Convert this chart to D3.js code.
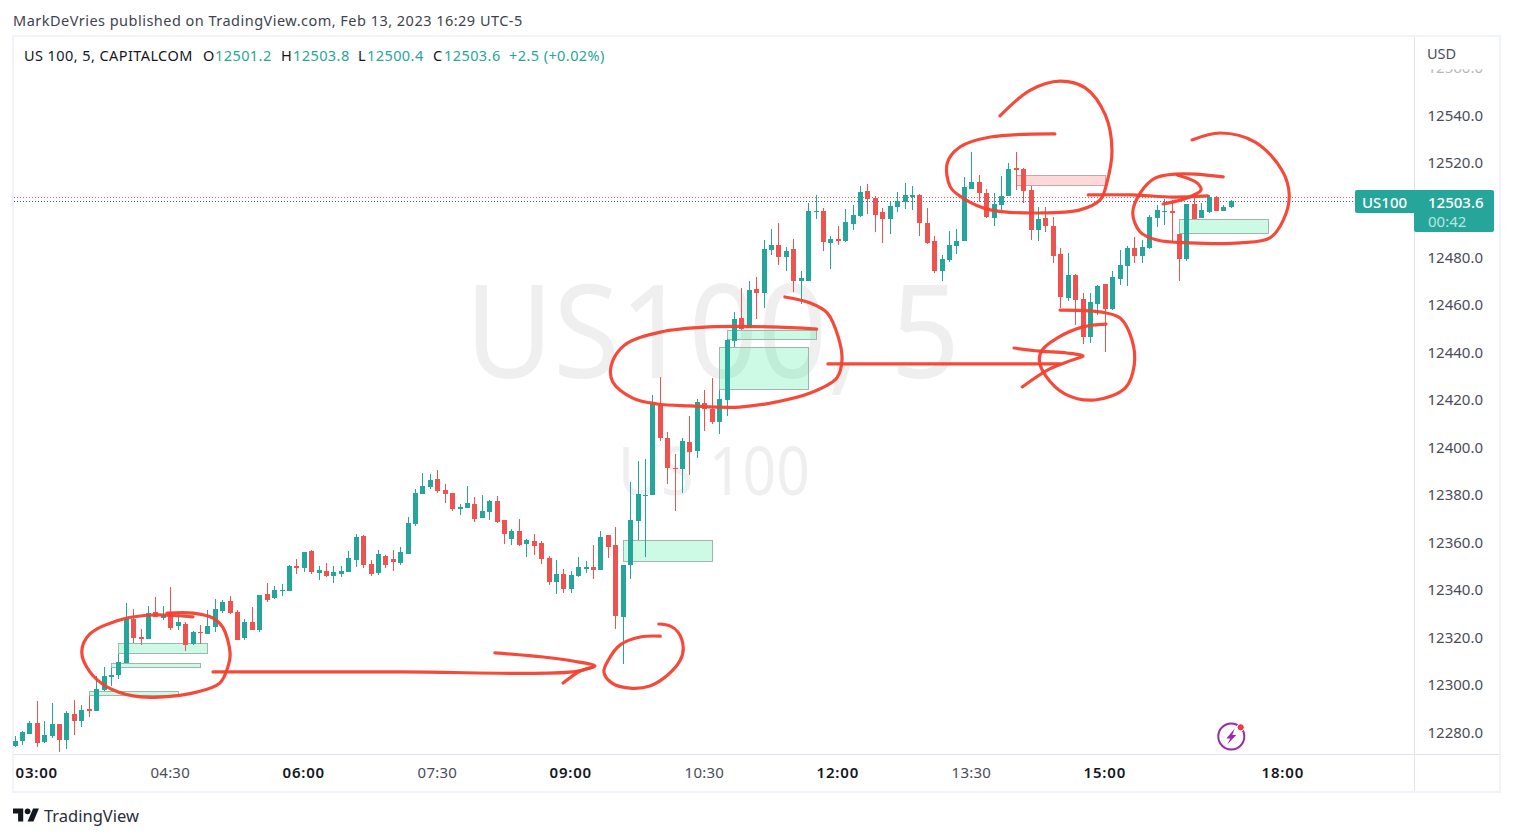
<!DOCTYPE html>
<html><head><meta charset="utf-8">
<script src="https://cdn.jsdelivr.net/npm/d3@7/dist/d3.min.js"></script>
<style>
html,body{margin:0;padding:0;background:#fff;overflow:hidden}
svg{display:block}
text{font-family:"Noto Sans",sans-serif}
</style></head><body>
<svg id="c" width="1513" height="839"></svg>
<script>
const opens=[12273.9,12276.0,12278.9,12283.6,12275.6,12278.1,12283.1,12276.4,12287.4,12284.4,
12289.5,12288.6,12297.5,12303.0,12303.8,12308.9,12327.4,12319.8,12319.0,12330.4,
12327.8,12329.9,12324.5,12325.3,12316.9,12321.9,12321.1,12324.0,12330.8,12335.0,
12330.4,12319.4,12326.1,12322.8,12337.9,12336.2,12339.2,12339.2,12349.7,12348.9,
12356.1,12346.8,12347.6,12345.5,12346.4,12347.2,12352.3,12362.4,12350.6,12346.8,
12354.0,12352.7,12351.0,12354.8,12367.4,12380.1,12383.0,12386.4,12381.8,12380.5,
12373.8,12374.2,12375.9,12370.0,12372.5,12377.1,12369.1,12361.1,12364.5,12359.0,
12360.3,12359.4,12353.1,12343.0,12346.4,12340.0,12345.5,12348.5,12349.3,12348.0,
12362.8,12358.6,12328.2,12350.2,12368.7,12379.2,12379.7,12417.6,12403.7,12391.0,
12390.6,12402.0,12398.2,12418.4,12415.9,12410.4,12419.7,12444.5,12454.2,12450.0,
12466.5,12464.8,12482.9,12485.0,12480.0,12483.3,12469.8,12469.8,12498.9,12499.3,
12485.9,12487.5,12486.7,12493.9,12497.2,12507.8,12504.8,12498.9,12496.0,12501.0,
12503.1,12505.2,12506.1,12494.3,12486.7,12474.0,12478.7,12484.6,12486.7,12508.6,
12511.6,12506.9,12496.4,12501.9,12505.7,12517.5,12517.0,12508.2,12491.3,12496.4,
12493.0,12481.2,12462.7,12472.4,12462.3,12446.2,12460.1,12468.6,12458.0,12470.7,
12476.2,12483.7,12480.4,12483.7,12496.4,12498.9,12499.3,12489.6,12479.1,12502.3,
12496.4,12498.9,12505.2,12499.3,12501.2];
const highs=[12278.1,12280.2,12284.4,12292.8,12284.4,12292.0,12283.1,12288.6,12293.3,12291.2,
12295.0,12303.4,12307.2,12306.8,12312.7,12334.2,12331.6,12323.2,12332.9,12336.7,
12332.9,12340.9,12329.9,12326.1,12322.3,12324.9,12331.2,12335.8,12335.4,12337.1,
12331.2,12327.4,12332.5,12337.5,12342.6,12341.3,12342.1,12350.2,12352.7,12355.6,
12356.5,12349.7,12351.0,12349.7,12349.7,12356.1,12363.2,12362.8,12352.3,12356.5,
12354.4,12356.5,12357.7,12370.4,12382.2,12388.9,12388.5,12390.2,12384.3,12380.5,
12375.9,12383.5,12378.8,12379.7,12377.6,12379.2,12369.1,12365.3,12369.5,12361.1,
12363.2,12360.3,12354.0,12352.3,12348.5,12347.6,12353.5,12351.8,12358.6,12364.5,
12362.8,12366.2,12350.2,12385.1,12394.0,12394.8,12421.8,12429.4,12406.2,12396.9,
12403.7,12413.0,12420.1,12423.9,12429.0,12423.9,12445.5,12456.8,12466.9,12469.8,
12471.5,12487.1,12491.8,12494.3,12484.2,12487.5,12474.0,12502.7,12506.1,12500.6,
12488.8,12493.0,12500.2,12501.9,12509.9,12510.7,12505.7,12500.6,12503.1,12507.4,
12511.1,12509.9,12506.5,12500.6,12488.8,12480.8,12490.9,12491.8,12513.7,12524.2,
12514.5,12508.6,12506.9,12514.1,12519.6,12524.2,12517.5,12509.9,12501.0,12501.0,
12496.8,12483.7,12481.6,12472.8,12464.8,12464.8,12468.2,12468.6,12474.0,12482.9,
12484.6,12488.4,12487.1,12497.7,12501.9,12504.4,12504.0,12489.6,12502.3,12504.8,
12502.7,12506.1,12505.7,12501.9,12503.8];
const lows=[12273.6,12274.3,12278.9,12273.5,12275.1,12277.2,12271.3,12272.6,12278.5,12281.9,
12286.1,12288.6,12297.1,12299.2,12302.1,12308.9,12317.3,12316.4,12319.0,12328.2,
12327.0,12322.8,12322.8,12313.9,12316.4,12316.9,12321.1,12321.9,12329.9,12329.5,
12318.6,12318.6,12322.8,12321.9,12334.6,12335.8,12337.1,12339.2,12346.4,12347.2,
12346.4,12343.8,12345.1,12342.6,12345.1,12347.2,12349.3,12348.9,12345.5,12345.9,
12348.9,12347.6,12350.2,12354.8,12366.6,12380.1,12382.2,12380.5,12376.3,12372.9,
12371.2,12374.2,12368.3,12370.0,12369.1,12367.9,12359.0,12358.6,12358.2,12353.5,
12354.4,12350.6,12341.7,12337.9,12338.4,12338.4,12345.1,12346.8,12344.3,12348.0,
12353.1,12323.2,12308.4,12344.3,12360.7,12353.5,12379.7,12402.4,12384.3,12372.9,
12380.5,12388.1,12395.3,12406.6,12409.6,12405.4,12413.0,12442.0,12449.2,12450.0,
12453.8,12458.5,12480.8,12476.6,12474.0,12465.2,12460.1,12469.8,12496.0,12482.5,
12474.9,12485.0,12486.3,12491.3,12496.8,12498.1,12490.5,12485.9,12489.6,12498.9,
12500.2,12499.8,12488.8,12485.4,12473.2,12469.8,12477.8,12481.2,12486.7,12508.6,
12503.1,12496.4,12493.0,12499.8,12505.7,12508.2,12502.7,12487.1,12486.7,12490.5,
12477.4,12458.5,12461.4,12451.3,12443.3,12443.7,12455.5,12439.9,12457.6,12468.2,
12467.7,12477.4,12477.4,12483.3,12492.6,12493.4,12486.7,12469.8,12478.3,12496.0,
12496.4,12498.5,12499.3,12499.3,12500.4];
const closes=[12276.0,12279.8,12283.6,12275.1,12278.5,12283.1,12276.4,12287.8,12284.4,12289.0,
12288.6,12297.9,12303.4,12303.8,12309.3,12327.4,12319.4,12319.0,12329.9,12328.2,
12329.1,12323.6,12326.1,12316.4,12321.9,12321.5,12324.5,12331.6,12334.6,12329.9,
12318.6,12326.1,12322.8,12337.5,12335.4,12339.6,12339.6,12349.7,12348.9,12355.6,
12347.2,12348.0,12345.5,12347.2,12347.6,12353.1,12362.0,12350.2,12346.4,12354.8,
12350.2,12351.4,12355.6,12367.9,12380.5,12383.5,12386.0,12381.3,12380.1,12373.8,
12374.6,12376.3,12369.5,12372.9,12377.1,12368.3,12363.2,12364.5,12358.6,12360.7,
12358.2,12352.7,12343.0,12346.4,12340.0,12345.9,12349.3,12349.3,12348.0,12362.0,
12357.7,12328.7,12350.2,12369.1,12380.1,12379.7,12418.0,12403.7,12391.0,12390.6,
12402.4,12397.8,12418.9,12415.9,12410.4,12420.1,12445.0,12453.8,12449.6,12466.0,
12464.8,12483.3,12485.0,12480.0,12482.5,12469.8,12471.1,12499.3,12499.3,12486.3,
12487.5,12486.7,12494.7,12497.7,12507.4,12504.4,12497.7,12496.0,12501.4,12503.6,
12506.1,12506.1,12494.3,12485.9,12474.0,12479.1,12485.0,12486.7,12509.5,12511.6,
12506.9,12496.8,12502.3,12505.7,12517.0,12516.6,12507.8,12491.3,12496.0,12493.0,
12480.4,12463.1,12472.4,12461.8,12446.2,12461.0,12467.7,12458.0,12471.5,12476.6,
12483.7,12480.4,12484.2,12496.8,12499.8,12499.3,12498.5,12479.1,12502.3,12496.0,
12499.8,12505.2,12499.3,12501.0,12503.6];

const priceTicks=[12280,12300,12320,12340,12360,12380,12400,12420,12440,12460,12480,12520,12540,12560];
const timeTickBars=[3,21,39,57,75,93,111,129,147,171];
const timeTickLabels=["03:00","04:30","06:00","07:30","09:00","10:30","12:00","13:30","15:00","18:00"];
const timeTickBold=[true,false,true,false,true,false,true,false,true,true];

const zoneBars=[[14,26],[13,25],[10,22],[82,94],[96,108],[95,107],[157,169]];
const zonePrices=[[12317.2,12313.0],[12308.7,12307.1],[12296.9,12295.3],[12360.6,12351.7],[12449.1,12445.3],[12441.9,12424.2],[12495.8,12489.9]];
const redZoneBars=[135,147];
const redZonePrices=[12514.4,12510.2];

const lastPrice=12503.6, prevClose=12505.0;

// hand drawn annotations as [bar, price]
const scribbles=[
[[24,12328.3],[18.6,12329.1],[14.6,12327.4],[10.1,12321.1],[9,12313.5],[10.1,12305.1],[12.4,12298.8],[15.9,12295],[19.5,12294.5],[24.5,12296.6],[27.6,12300.4],[28.7,12307.2],[29,12313.1],[28,12324],[26.7,12327.8],[24,12329.9],[20.5,12329.9]],
[[26.7,12305.1],[51.9,12305.1],[75.2,12305.1],[77.9,12307.2]],
[[64.7,12313.1],[71.2,12311.4],[75.2,12309.7],[78.2,12307.6],[76.2,12305.5],[73.9,12300.4]],
[[87,12320.2],[84.3,12319.8],[81.6,12316.5],[80,12310.1],[79.4,12305.1],[80.5,12300.4],[82.9,12298.3],[85.6,12299.2],[88,12303.8],[89.7,12310.1],[90.1,12315.2],[89.4,12321.9],[88.3,12324.5],[86.8,12325.3]],
[[108.1,12449.6],[101.8,12450.5],[93.7,12450.5],[87,12448.3],[82.2,12442.9],[80.4,12434.4],[80.6,12427.3],[83.3,12420.5],[86.6,12418],[91,12417.2],[97.7,12416.7],[102.7,12418.9],[107.2,12422.6],[110.8,12429],[111.5,12436.6],[111,12446.2],[109.5,12456.4],[107.2,12460.6],[103.8,12463.1]],
[[109.6,12434.9],[140.9,12434.9]],
[[134.7,12441.6],[138.2,12440.3],[141.8,12439.5],[144,12438.2],[142.6,12436.6],[139.5,12432.8],[135.8,12425.2]],
[[140.9,12457.6],[146.3,12456.8],[149,12454.2],[150.6,12445],[150.9,12434.4],[149.7,12424.8],[145.6,12419.7],[141.6,12422.2],[138.9,12430.2],[138.1,12436.6],[138.5,12440.8],[140.5,12445.8],[144,12450.5],[147.1,12451.7]],
[[132.8,12539.4],[136.9,12550.3],[140.9,12554.1],[144.3,12551.2],[147,12539.8],[147.9,12525],[147.2,12511.1],[146.3,12504],[143.6,12499.8],[138.2,12498.5],[131.5,12499.8],[127.8,12504.8],[126.1,12509.5],[125.7,12519.6],[127.4,12526.3],[131.5,12530.5],[140.2,12531.8]],
[[144.7,12506.1],[150.7,12506.1],[156.1,12505.2],[160.8,12505.7]],
[[162.9,12513.7],[159.1,12514.9],[156.4,12514.9],[153.7,12513.2],[151.7,12506.9],[150.7,12498.5],[151.7,12490.5],[154,12487.1],[158.4,12485.9],[165.2,12485.9],[169.2,12488],[171,12495.5],[171.8,12506.1],[170.8,12516.6],[167.2,12528.4],[162.5,12532.2],[158.7,12529.3]],
[[156.7,12514.5],[159.4,12511.1],[159.9,12508.2],[158,12504.8],[154.8,12502.3]]
];

const GREEN="#26a69a", RED="#ef5350", TXT="#4a4d57";
const svg=d3.select("#c");
const x=d3.scaleLinear().domain([0,164]).range([15,15+7.417*164]);
const y=d3.scaleLinear().domain([12280,12540]).range([731.5,114.5]);
const col=i=>Math.floor(x(i));
const px=v=>Math.round(v);
const candles=opens.map((o,i)=>({i,o,h:highs[i],l:lows[i],c:closes[i]}));

// panel frame
const frame=svg.append("g");
frame.append("rect").attr("x",13).attr("y",36).attr("width",1487).attr("height",756).attr("fill","#fff").attr("stroke","#f0f3fa").attr("stroke-width",2);
frame.append("line").attr("x1",14).attr("x2",1499).attr("y1",754.5).attr("y2",754.5).attr("stroke","#e0e3eb");
frame.append("line").attr("x1",1414.5).attr("x2",1414.5).attr("y1",37).attr("y2",791).attr("stroke","#e0e3eb");

// header
svg.append("text").attr("x",13).attr("y",25.5).attr("font-size",14.5).attr("letter-spacing",.48).attr("fill","#3f4350").text("MarkDeVries published on TradingView.com, Feb 13, 2023 16:29 UTC-5");

// watermark
const wm=svg.append("g").attr("fill","#efefef");
wm.append("text").attr("x",465).attr("y",378).attr("font-size",130).attr("font-family","Roboto").attr("textLength",495).attr("lengthAdjust","spacingAndGlyphs").text("US100, 5");
wm.append("text").attr("x",618).attr("y",495).attr("font-size",68).attr("font-family","Roboto").attr("textLength",192).attr("lengthAdjust","spacingAndGlyphs").text("US 100");

// zones
const zg=svg.append("g").attr("shape-rendering","crispEdges");
zg.selectAll("rect.z").data(zoneBars).join("rect").attr("class","z")
 .attr("x",d=>Math.floor(x(d[0]))+.5).attr("width",d=>px(x(d[1])-x(d[0])))
 .attr("y",(d,i)=>px(y(zonePrices[i][0]))+.5).attr("height",(d,i)=>px(y(zonePrices[i][1])-y(zonePrices[i][0])))
 .attr("fill","#00e676").attr("fill-opacity",.2).attr("stroke","#9fb5ad").attr("stroke-width",1);
zg.append("rect").attr("x",Math.floor(x(redZoneBars[0]))+.5).attr("width",px(x(redZoneBars[1])-x(redZoneBars[0])))
 .attr("y",px(y(redZonePrices[0]))+.5).attr("height",px(y(redZonePrices[1])-y(redZonePrices[0])))
 .attr("fill","#ff5252").attr("fill-opacity",.22).attr("stroke","#bfa9ab");

// dotted price lines
svg.append("line").attr("x1",14).attr("x2",1355).attr("y1",y(prevClose)).attr("y2",y(prevClose)).attr("stroke",RED).attr("stroke-dasharray","1,2");
svg.append("line").attr("x1",14).attr("x2",1355).attr("y1",px(y(lastPrice))+.5).attr("y2",px(y(lastPrice))+.5).attr("stroke","#2962ff").attr("stroke-dasharray","1,2");

// candles
const cg=svg.append("g").attr("shape-rendering","crispEdges");
cg.selectAll("rect.w").data(candles).join("rect").attr("class","w")
 .attr("x",d=>col(d.i)).attr("width",1)
 .attr("y",d=>px(y(d.h))).attr("height",d=>Math.max(1,px(y(d.l))-px(y(d.h))))
 .attr("fill",d=>d.c>=d.o?GREEN:RED);
cg.selectAll("rect.b").data(candles).join("rect").attr("class","b")
 .attr("x",d=>col(d.i)-2).attr("width",5)
 .attr("y",d=>px(y(Math.max(d.o,d.c)))).attr("height",d=>Math.max(1,px(y(Math.min(d.o,d.c)))-px(y(Math.max(d.o,d.c)))))
 .attr("fill",d=>d.c>=d.o?GREEN:RED);

// annotations
const line=d3.line().x(d=>x(d[0])).y(d=>y(d[1])).curve(d3.curveCatmullRom.alpha(.5));
svg.append("g").selectAll("path").data(scribbles).join("path").attr("d",line)
 .attr("fill","none").attr("stroke","#f4402f").attr("stroke-width",3.2).attr("stroke-linecap","round").attr("stroke-linejoin","round").attr("stroke-opacity",.95);

// price axis
const yAxis=d3.axisRight(y).tickValues(priceTicks).tickSize(0).tickPadding(0).tickFormat(d3.format(".1f"));
const yg=svg.append("g").attr("transform","translate(1427.5,0.7)").call(yAxis);
yg.select(".domain").remove();
yg.selectAll("text").attr("font-size",15).attr("font-family",'"Noto Sans",sans-serif').attr("fill",TXT);
svg.append("defs").append("clipPath").attr("id","pcTick").append("rect").attr("x",-5).attr("y",1).attr("width",80).attr("height",10);
yg.selectAll(".tick").filter(d=>d===12560).attr("clip-path","url(#pcTick)").select("text").attr("fill","#b5b7bd");
svg.append("text").attr("x",1427).attr("y",59).attr("font-size",14.5).attr("fill",TXT).text("USD");

// time axis
const xAxis=d3.axisBottom(x).tickValues(timeTickBars).tickSize(0).tickPadding(0).tickFormat((d,i)=>timeTickLabels[i]);
const xg=svg.append("g").attr("transform","translate(-1,767)").call(xAxis);
xg.select(".domain").remove();
xg.selectAll("text").attr("font-size",15).attr("font-family",'"Noto Sans",sans-serif').attr("fill",(d,i)=>timeTickBold[i]?"#131722":TXT).attr("font-weight",(d,i)=>timeTickBold[i]?600:400).attr("letter-spacing",(d,i)=>timeTickBold[i]?.8:.2);

// legend
const lg=svg.append("g").attr("font-size",14.5).attr("letter-spacing",.42);
const legendX=[24,203,215,281,293,358,367,433,444,509];
const legendT=["US 100, 5, CAPITALCOM","O","12501.2","H","12503.8","L","12500.4","C","12503.6","+2.5 (+0.02%)"];
const legendC=["#131722","#131722",GREEN,"#131722",GREEN,"#131722",GREEN,"#131722",GREEN,GREEN];
legendT.forEach((t,i)=>lg.append("text").attr("x",legendX[i]).attr("y",61).attr("fill",legendC[i]).text(t));

// last price tag
const ly=y(lastPrice);
svg.append("rect").attr("x",1355).attr("y",ly-11).attr("width",62).attr("height",23).attr("rx",2).attr("fill",GREEN);
svg.append("rect").attr("x",1414).attr("y",ly-11).attr("width",80).attr("height",42).attr("rx",2).attr("fill",GREEN);
svg.append("text").attr("x",1362).attr("y",ly+7).attr("font-size",15).attr("font-weight",500).attr("fill","#fff").text("US100");
svg.append("text").attr("x",1428).attr("y",ly+7).attr("font-size",15).attr("font-weight",500).attr("fill","#fff").text(d3.format(".1f")(lastPrice));
svg.append("text").attr("x",1428).attr("y",ly+26).attr("font-size",15).attr("fill","#fff").attr("fill-opacity",.7).text("00:42");

// TV logo + label
const logo=svg.append("g").attr("transform","translate(13,804) scale(0.73)").attr("fill","#131722");
logo.append("path").attr("d","M14 24H7V13H0V6h14v18zM28 24h-8l7.5-18h8L28 24z");
logo.append("circle").attr("cx",20).attr("cy",10).attr("r",4);
svg.append("text").attr("x",44).attr("y",821.5).attr("font-size",16.5).attr("fill","#2a2e39").text("TradingView");

// alert icon
const ic=svg.append("g").attr("transform","translate(1231.3,736.5)");
ic.append("circle").attr("r",13).attr("fill","none").attr("stroke","#9c27b0").attr("stroke-width",2);
ic.append("path").attr("d","M3.5 -8 L-5 2 L-1 2 L-4 8 L5 -1.5 L1 -1.5 Z").attr("fill","#9c27b0");
ic.append("circle").attr("cx",9.4).attr("cy",-9.2).attr("r",3.6).attr("fill","#f23645").attr("stroke","#fff").attr("stroke-width",1);
</script>
</body></html>
